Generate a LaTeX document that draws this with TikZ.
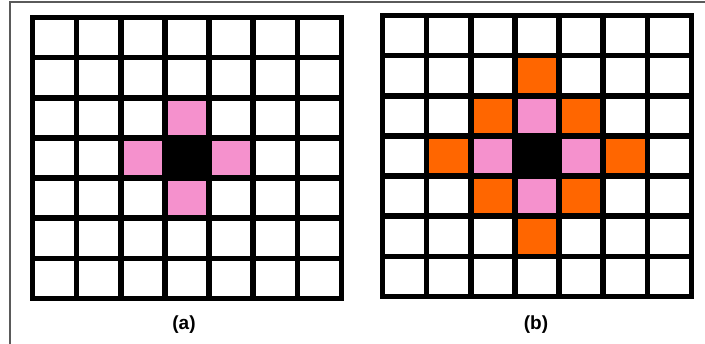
\documentclass[tikz,border=0pt]{standalone}
\usepackage{fontspec}
\setmainfont{Liberation Sans}
\definecolor{pinkc}{RGB}{245,145,205}
\definecolor{orangec}{RGB}{255,102,0}
\definecolor{framec}{RGB}{90,90,90}
\begin{document}
\begin{tikzpicture}[x=1pt,y=-1pt,
  gridline/.style={line width=5.5pt,black,line cap=rect},
  lbl/.style={font=\bfseries\fontsize{19}{22}\selectfont, inner sep=0pt}]
\useasboundingbox (0,0) rectangle (705,344);
\fill[white] (0,0) rectangle (705,344);
\draw[framec,line width=1.2pt] (10,2) rectangle (720,360);
% grid (a)
\begin{scope}[shift={(32.5,17.5)},x=44.143pt,y=-40.143pt]
  \foreach \c/\r in {3/2,2/3,4/3,3/4} \fill[pinkc] (\c,\r) rectangle ++(1,1);
  \fill[black] (3,3) rectangle ++(1,1);
  \foreach \i in {0,...,7} {
    \draw[gridline] (\i,0) -- (\i,7);
    \draw[gridline] (0,\i) -- (7,\i);
  }
\end{scope}
% grid (b)
\begin{scope}[shift={(382.5,15.5)},x=44.143pt,y=-40.143pt]
  \foreach \c/\r in {3/1,2/2,4/2,1/3,5/3,2/4,4/4,3/5} \fill[orangec] (\c,\r) rectangle ++(1,1);
  \foreach \c/\r in {3/2,2/3,4/3,3/4} \fill[pinkc] (\c,\r) rectangle ++(1,1);
  \fill[black] (3,3) rectangle ++(1,1);
  \foreach \i in {0,...,7} {
    \draw[gridline] (\i,0) -- (\i,7);
    \draw[gridline] (0,\i) -- (7,\i);
  }
\end{scope}
\node[lbl] (la) at (184,325) {(a)};
\node[lbl] (lb) at (536,325) {(b)};
\end{tikzpicture}
\end{document}
